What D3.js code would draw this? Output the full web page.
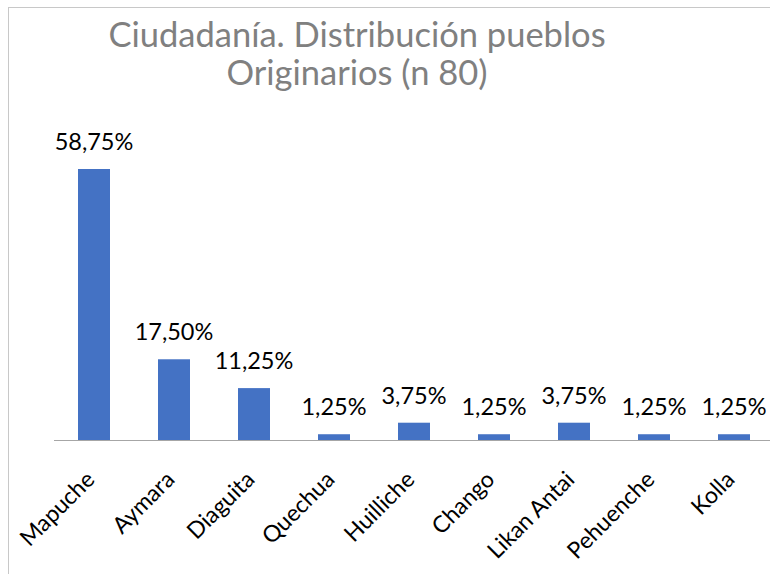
<!DOCTYPE html>
<html lang="es">
<head>
<meta charset="utf-8">
<title>Ciudadanía</title>
<script src="https://cdn.jsdelivr.net/npm/d3@7"></script>
<style>
  body { margin: 0; background: #fff; }
  svg { display: block; }
</style>
</head>
<body>
<script>
// datos
const categories = ["Mapuche", "Aymara", "Diaguita", "Quechua", "Huilliche", "Chango", "Likan Antai", "Pehuenche", "Kolla"];
const values = [58.75, 17.50, 11.25, 1.25, 3.75, 1.25, 3.75, 1.25, 1.25];
const titleLines = ["Ciudadanía. Distribución pueblos", "Originarios (n 80)"];

const w = 770, h = 574;
const baseY = 440;
const font = "Lato, 'Open Sans', sans-serif";

const svg = d3.select("body").append("svg")
  .attr("width", w)
  .attr("height", h);

// marco
svg.append("rect")
  .attr("x", 8.5).attr("y", 7.5)
  .attr("width", 780).attr("height", 580)
  .attr("fill", "none")
  .attr("stroke", "#c8c8c8");

const x = d3.scaleBand()
  .domain(categories)
  .range([54, 774])
  .paddingInner(0.6)
  .paddingOuter(0.3);

const y = d3.scaleLinear()
  .domain([0, 58.75])
  .range([baseY, 169]);

svg.selectAll("text.title")
  .data(titleLines)
  .enter().append("text")
  .attr("class", "title")
  .attr("x", 357)
  .attr("y", (d, i) => 47 + i * 38)
  .attr("text-anchor", "middle")
  .attr("font-family", font)
  .attr("font-size", "34.5px")
  .attr("fill", "#808080")
  .text(d => d);

svg.selectAll("rect.bar")
  .data(values)
  .enter().append("rect")
  .attr("class", "bar")
  .attr("x", (d, i) => x(categories[i]))
  .attr("y", d => y(d))
  .attr("width", x.bandwidth())
  .attr("height", d => baseY - y(d))
  .attr("fill", "#4472c4");

// eje
svg.append("line")
  .attr("x1", 54).attr("x2", 774)
  .attr("y1", baseY + 0.5).attr("y2", baseY + 0.5)
  .attr("stroke", "#a6a6a6")
  .attr("stroke-width", 1);

svg.selectAll("text.val")
  .data(values)
  .enter().append("text")
  .attr("class", "val")
  .attr("x", (d, i) => x(categories[i]) + x.bandwidth() / 2)
  .attr("y", d => y(d) - 19)
  .attr("text-anchor", "middle")
  .attr("font-family", font)
  .attr("font-size", "23.5px")
  .attr("fill", "#000")
  .text(d => d.toFixed(2).replace(".", ",") + "%");

svg.selectAll("text.cat")
  .data(categories)
  .enter().append("text")
  .attr("class", "cat")
  .attr("text-anchor", "end")
  .attr("font-family", font)
  .attr("font-size", "23px")
  .attr("fill", "#000")
  .attr("transform", d => {
    const cx = x(d) + x.bandwidth() / 2 + 2;
    return `translate(${cx},${baseY + 41}) rotate(-45)`;
  })
  .text(d => d);
</script>
</body>
</html>
